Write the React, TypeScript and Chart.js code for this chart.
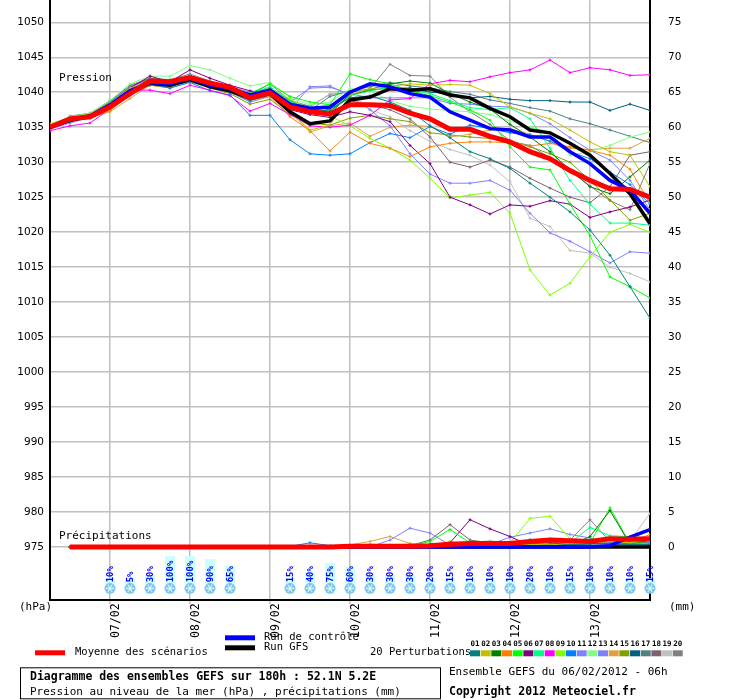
import React, { useEffect, useRef } from "react";
import { Chart, registerables } from "chart.js";
Chart.register(...registerables);

const dayLabels = ["07/02", "08/02", "09/02", "10/02", "11/02", "12/02", "13/02"];
const dayTickIdx = [3, 7, 11, 15, 19, 23, 27];
const pressureTicks = [975, 980, 985, 990, 995, 1000, 1005, 1010, 1015, 1020, 1025, 1030, 1035, 1040, 1045, 1050];

const meanP = [1035.0,1036.2,1036.5,1037.9,1039.8,1041.6,1041.5,1042.1,1041.3,1040.7,1039.2,1039.9,1037.9,1037.2,1036.9,1038.2,1038.2,1038.1,1037.0,1036.2,1034.7,1034.7,1033.7,1032.9,1031.5,1030.5,1028.8,1027.4,1026.2,1026.1,1025.0];
const controlP = [1035.0,1036.0,1036.6,1038.2,1040.2,1041.4,1041.2,1042.0,1041.0,1040.5,1039.6,1040.3,1038.3,1037.7,1037.9,1040.0,1041.2,1040.8,1039.8,1039.3,1037.2,1036.0,1034.8,1034.6,1033.6,1033.6,1031.5,1029.8,1027.4,1026.0,1022.7];
const gfsP = [1035.0,1036.0,1036.6,1038.0,1040.0,1041.3,1041.0,1041.8,1040.8,1040.2,1039.2,1039.8,1037.2,1035.5,1035.9,1038.9,1039.3,1040.5,1040.3,1040.5,1039.6,1039.2,1037.7,1036.5,1034.6,1034.2,1032.7,1031.0,1028.4,1025.5,1021.2];

const p01 = [1035,1036.1,1036.6,1038.1,1040.1,1041.3,1041.0,1041.6,1040.6,1040.0,1038.8,1039.6,1037.8,1037.0,1037.6,1039.2,1039.5,1038.6,1037.4,1035.2,1033.5,1031.5,1030.5,1029.1,1027,1025,1022.9,1020.3,1016.7,1012.2,1007.7];
const p02 = [1035.3,1036.4,1036.9,1038.5,1040.6,1041.6,1041.3,1042,1041.2,1040.4,1039.4,1039.6,1037.2,1034.6,1035.3,1039.6,1040.5,1040.8,1041.2,1041,1041.1,1041,1039.8,1037.9,1037,1036.2,1034.6,1032.9,1031.5,1031,1026.5];
const p03 = [1035,1036.3,1036.7,1038,1040.4,1041.2,1041.2,1041.8,1041,1040.5,1039.6,1040.5,1038.4,1037.6,1037.3,1039.6,1040.4,1041.2,1041.6,1041.3,1039.8,1038.6,1037.6,1035.4,1033.6,1031.5,1028.9,1026.5,1025.5,1027.9,1030.3];
const p04 = [1035.3,1036,1036.4,1037.4,1040.2,1041.2,1040.9,1041.6,1040.7,1040,1038.9,1039.4,1036.5,1034.5,1031.6,1034.3,1032.7,1032,1030.8,1032.2,1032.7,1032.9,1032.9,1032.8,1032.3,1032.7,1032.2,1031.7,1031,1029,1024.1];
const p05 = [1035,1035.8,1036.3,1037.6,1040,1041.5,1041.2,1041.8,1041,1040.5,1039.8,1041.2,1039.4,1038.6,1038.2,1042.6,1041.8,1041.2,1040.2,1039.5,1038.6,1037.5,1036.0,1032.2,1029.3,1028.9,1024,1019.5,1013.6,1012.2,1010.6];
const p06 = [1035,1036.3,1036.6,1038.3,1040.6,1042.3,1041.5,1043.2,1042,1041,1040.2,1039.8,1037.5,1036.8,1036.4,1037.2,1036.7,1035.8,1032.4,1029.8,1025,1023.9,1022.6,1023.9,1023.7,1024.5,1024,1022.1,1022.9,1023.6,1024.6];
const p07 = [1035,1036.2,1036.5,1037.8,1040,1041.4,1041.3,1042,1041.2,1040.6,1039.8,1040.8,1038.6,1037.8,1037.2,1039.5,1040.2,1040.7,1040.3,1039.8,1038.8,1037.8,1037.5,1037.8,1036.2,1032,1027.4,1024,1021.3,1021.3,1021];
const p08 = [1034.5,1035.2,1035.6,1037.6,1040.3,1040.3,1039.8,1041.0,1040.3,1039.5,1037.3,1038.4,1036.8,1035.2,1035.0,1035.3,1036.7,1038.9,1039.1,1041.2,1041.7,1041.5,1042.2,1042.8,1043.2,1044.6,1042.8,1043.5,1043.2,1042.4,1042.5];
const p09 = [1035,1036,1036.5,1038,1040,1041.4,1041.2,1042.2,1041.4,1040.8,1039.6,1040.6,1039.0,1037.6,1036.6,1035.2,1033.4,1032,1030.3,1027.7,1024.9,1025.3,1025.7,1022.7,1014.6,1011,1012.7,1016.5,1020,1021.1,1020];
const p10 = [1034.8,1035.8,1036.6,1038.6,1040.6,1041.2,1040.6,1041.4,1040.2,1039.6,1036.7,1036.7,1033.2,1031.2,1031,1031.2,1032.8,1034.1,1033.5,1035.1,1034,1035.3,1034.8,1034.2,1033.9,1033,1031.5,1030.5,1028.6,1026.8,1024];
const p11 = [1035,1036,1036.7,1038.4,1040.8,1041.7,1041.5,1042.4,1041.5,1040.8,1040,1040.5,1038.6,1040.6,1040.7,1039.8,1039.2,1039.2,1039.2,1039.2,1038.4,1038.3,1038.0,1037.9,1037,1035.5,1033.5,1031.7,1030.3,1027.4,1023.2];
const p12 = [1035.4,1036.5,1037,1038.8,1041.2,1042.3,1042.3,1043.8,1043.2,1042,1040.9,1041.4,1039.2,1038.2,1038.6,1040.5,1040.2,1038.8,1038,1037.6,1037.4,1037.2,1036.8,1035.9,1035,1034.3,1031,1031.5,1032.4,1033.6,1034.3];
const p13 = [1034.8,1035.6,1036.4,1038.3,1040.4,1041.2,1040.8,1041.8,1040.8,1040,1038.6,1039.4,1037.5,1040.8,1040.9,1039.5,1037.5,1035.2,1031.2,1028.3,1027,1027,1027.4,1026,1022.7,1019.9,1018.7,1017.2,1015.6,1017.2,1017];
const p14 = [1035.5,1036.2,1036.4,1037.2,1039.1,1041,1040.7,1042.1,1041.6,1040.6,1039,1039.7,1037.3,1034.3,1035.2,1035.6,1033.7,1035,1035.3,1035.1,1033.6,1034,1034.6,1034.8,1034,1033,1032,1031.8,1032,1032,1033.4];
const p15 = [1035.2,1036,1036.3,1037.4,1039.6,1041,1040.6,1041.5,1040.6,1039.8,1038.3,1039,1036.8,1035.6,1035.3,1036.3,1036.7,1036.2,1035.8,1034.2,1033.9,1033.6,1033.4,1033,1032.2,1031.2,1030,1027.4,1024.6,1021.7,1022.7];
const p16 = [1035.2,1036.0,1036.8,1038.0,1039.6,1041.0,1040.8,1041.6,1040.8,1040.2,1039.0,1039.8,1038.2,1037.5,1037.0,1039.6,1040.3,1040.6,1040.6,1040.0,1039.8,1039.2,1039.4,1039.0,1038.8,1038.8,1038.6,1038.6,1037.4,1038.3,1037.4];
const p17 = [1035,1036.4,1036.9,1038.6,1040.8,1041.9,1041.6,1042.3,1041.4,1040.8,1039.8,1040.6,1038.8,1037.4,1039.4,1040.2,1040.8,1041.4,1040.9,1040.6,1040.1,1039.7,1038.9,1038.4,1037.8,1037.3,1036.2,1035.5,1034.6,1033.7,1032.8];
const p18 = [1035,1036.4,1036.9,1038.6,1040.8,1042,1041.6,1042,1041,1040.3,1039.2,1039.8,1037.8,1037.2,1036.9,1038.8,1038.2,1037.5,1036.2,1033.6,1030,1029.3,1030.3,1029.3,1027.7,1026.3,1025,1024.2,1026.5,1031,1031.5];
const p19 = [1035,1036.2,1036.8,1038.2,1040.2,1041.5,1041.2,1042.3,1041.3,1040.6,1039.5,1040.3,1038.5,1037.8,1039.8,1040.1,1037.5,1036.5,1034.5,1033,1031.8,1031,1029.6,1027.2,1022,1020.8,1017.4,1017,1015,1014.1,1012.9];
const p20 = [1034.6,1036.6,1037,1038.8,1041,1042,1041.8,1042.6,1041.6,1040.8,1039.7,1041.2,1038.8,1038,1039.7,1040,1040.5,1044,1042.4,1042.3,1039.3,1037.2,1035.4,1033,1032.4,1030.6,1028.8,1026.6,1024.5,1023.2,1029.8];
const pertP = [p01,p02,p03,p04,p05,p06,p07,p08,p09,p10,p11,p12,p13,p14,p15,p16,p17,p18,p19,p20];
const pertColors = ["#008080","#c0c000","#008000","#ff8000","#00ff00","#800080","#00ff80","#ff00ff","#80ff00","#0080ff","#8080ff","#80ff80","#8080ff","#e0a040","#80a000","#006080","#508080","#806070","#c0c0c0","#808080"];

const meanR = [null,0,0,0,0,0,0,0,0,0,0,0,0,0,0,0.1,0.1,0.1,0.1,0.2,0.4,0.5,0.5,0.5,0.8,1.0,0.9,0.8,1.2,1.1,1.2];
const controlR = [null,0,0,0,0,0,0,0,0,0,0,0,0,0,0,0,0,0,0,0,0,0,0,0,0,0,0,0,0.2,1.4,2.5];
const gfsR = [null,0,0,0,0,0,0,0,0,0,0,0,0,0,0,0,0,0,0,0,0,0,0,0,0,0,0,0,0,0,0];
const r01 = [null,0,0,0,0,0,0,0,0,0,0,0,0,0,0,0,0,0,0,0,0,0,0,0.5,1.0,0.6,0.3,0.4,0.5,0.3,0.4];
const r02 = [null,0,0,0,0,0,0,0,0,0,0,0,0,0,0,0,0,0,0.2,0.3,0.2,0.1,0.2,0.3,0.4,0.3,0.5,0.6,0.8,0.6,0.5];
const r03 = [null,0,0,0,0,0,0,0,0,0,0,0,0,0,0,0,0,0,0,0.1,0.3,0.2,0.1,0.2,0.5,0.3,0.2,1.5,5.2,0.4,1.0];
const r04 = [null,0,0,0,0,0,0,0,0,0,0,0,0,0,0,0.2,0.4,0.3,0.4,0.3,0.2,0.2,0.2,0.4,0.6,0.4,0.3,0.8,0.9,0.7,1.8];
const r05 = [null,0,0,0,0,0,0,0,0.1,0,0,0,0,0,0,0,0,0,0.1,0.8,2.5,0.6,0.3,0.2,0.3,0.2,0.5,0.6,5.6,0.5,0.9];
const r06 = [null,0,0,0,0,0,0,0,0,0,0,0,0,0,0,0,0,0,0.1,0.4,0.6,3.9,2.6,1.5,0.2,0.1,0.3,0.5,0.4,0.3,0.3];
const r07 = [null,0,0,0,0,0,0,0,0,0,0,0,0,0,0,0,0,0,0,0.1,0.2,0.3,0.4,0.5,0.8,1.2,0.6,2.8,1.6,1.5,1.3];
const r08 = [null,0,0,0,0,0,0,0,0,0,0,0,0,0,0,0,0,0,0,0,0,0,0,0,0.1,0.1,0,0.1,0.2,0.1,0.2];
const r09 = [null,0,0,0,0,0,0,0,0,0,0,0,0,0,0,0,0,0,0,0,0.8,0.4,0.3,0.6,4.1,4.4,1.2,0.6,0.9,1.0,0.8];
const r10 = [null,0,0,0,0,0,0,0,0,0,0,0,0.1,0.6,0.2,0.2,0.1,0.1,0.3,0.2,0.3,0.2,0.3,0.4,0.5,0.4,0.6,0.8,0.9,0.4,0.6];
const r11 = [null,0,0,0,0,0,0,0,0,0,0,0,0,0,0,0,0,1.0,2.7,2.0,0.3,0.2,0.2,0.3,0.4,0.6,0.5,0.5,0.6,0.4,0.5];
const r12 = [null,0,0,0,0,0,0,0,0,0,0,0,0,0,0,0,0,0,0.1,0.2,0.1,0.2,0.3,0.4,0.6,0.5,0.4,0.7,1.6,1.4,0.9];
const r13 = [null,0,0,0,0,0,0,0,0,0,0,0,0,0,0,0,0,0,0.1,0.2,0.2,0.3,0.4,1.4,2.0,2.6,1.8,1.3,0.7,0.6,1.0];
const r14 = [null,0,0,0,0,0,0,0,0,0,0,0,0,0,0,0.3,0.8,1.5,0.5,0.2,0.3,0.2,0.3,0.4,0.5,0.6,0.9,1.1,0.8,0.9,0.7];
const r15 = [null,0,0,0,0,0,0,0,0,0,0,0,0,0,0,0,0,0,0.1,0.1,0.2,0.3,0.2,0.3,0.4,0.5,0.5,0.6,0.7,0.5,0.4];
const r16 = [null,0,0,0,0,0,0,0,0,0,0,0,0,0,0,0,0,0,0,0.1,0.1,0.2,0.2,0.3,1.0,0.6,0.4,0.9,0.5,0.4,0.6];
const r17 = [null,0,0,0,0,0,0,0,0,0,0,0,0,0,0,0,0,0,0,0.1,0.2,0.2,0.3,0.4,0.5,0.4,0.6,0.7,0.5,0.6,0.7];
const r18 = [null,0,0,0,0,0,0,0,0,0,0,0,0,0,0,0,0,0,0.2,1.0,3.2,1.0,0.6,0.4,0.7,0.5,0.4,0.6,0.8,0.3,0.5];
const r19 = [null,0,0,0,0,0,0,0,0,0,0,0,0,0,0,0,0,0,0,0.1,0.3,0.6,0.9,0.6,0.5,0.7,0.4,0.6,0.8,0.9,4.8];
const r20 = [null,0,0,0,0,0,0,0,0,0,0,0,0,0,0,0,0,0,0,0.2,0.5,0.4,0.3,0.5,0.7,0.6,1.0,3.9,0.8,0.5,0.8];
const pertR = [r01,r02,r03,r04,r05,r06,r07,r08,r09,r10,r11,r12,r13,r14,r15,r16,r17,r18,r19,r20];

const snowIdx = [3,4,5,6,7,8,9,12,13,14,15,16,17,18,19,20,21,22,23,24,25,26,27,28,29,30];
const snowPct = [10,5,30,100,100,90,65,15,40,75,60,30,30,30,20,15,10,10,10,20,10,15,10,10,10,15];

const BASE = 975;
const MONO = '"DejaVu Sans Mono", monospace';

const pts = (arr: number[]) => arr.map((y, i) => ({ x: i, y }));
const rpts = (arr: (number | null)[]) =>
  arr.map((v, i) => (v === null ? null : { x: i, y: BASE + v })).filter((p) => p !== null);

// The overlay works in page coordinates; dy maps page y to canvas y (chart top offset).
const overlay = {
  id: "overlay",
  afterDatasetsDraw(chart: any) {
    const ctx = chart.ctx;
    const xs = chart.scales.x;
    const dy = chart.chartArea.top;
    ctx.save();
    ctx.translate(0, dy);
    ctx.fillStyle = "#000";
    ctx.font = `11px ${MONO}`;
    ctx.textBaseline = "middle";
    ctx.textAlign = "left";
    ctx.fillText("Pression", 59, 78);
    ctx.fillText("Précipitations", 59, 536);
    snowIdx.forEach((idx, k) => {
      const x = Math.round(xs.getPixelForValue(idx));
      const pct = snowPct[k];
      const h = Math.max(5, pct * 0.27);
      ctx.fillStyle = "#c8ffff";
      ctx.fillRect(x - 5, 583 - h, 10, h);
      ctx.fillStyle = "#7ec8f0";
      ctx.beginPath();
      ctx.arc(x, 588, 5.5, 0, Math.PI * 2);
      ctx.fill();
      ctx.strokeStyle = "#e8ffff";
      ctx.lineWidth = 1;
      for (let a = 0; a < 3; a++) {
        const an = (a * Math.PI) / 3;
        ctx.beginPath();
        ctx.moveTo(x - 4 * Math.cos(an), 588 - 4 * Math.sin(an));
        ctx.lineTo(x + 4 * Math.cos(an), 588 + 4 * Math.sin(an));
        ctx.stroke();
      }
      ctx.save();
      ctx.translate(x + 0.5, 582);
      ctx.rotate(-Math.PI / 2);
      ctx.fillStyle = "#0000ff";
      ctx.font = `bold 9px ${MONO}`;
      ctx.textAlign = "left";
      ctx.textBaseline = "middle";
      ctx.fillText(pct + "%", 0, 0);
      ctx.restore();
    });
    ctx.restore();
  },
  afterDraw(chart: any) {
    const ctx = chart.ctx;
    const xs = chart.scales.x;
    const dy = chart.chartArea.top;
    ctx.save();
    ctx.translate(0, dy);
    ctx.fillStyle = "#000";
    ctx.textBaseline = "middle";
    ctx.textAlign = "left";
    ctx.font = `11px ${MONO}`;
    ctx.fillText("(hPa)", 19, 607);
    ctx.fillText("(mm)", 669, 607);
    dayTickIdx.forEach((v, i) => {
      const x = Math.round(xs.getPixelForValue(v));
      ctx.strokeStyle = "#c0c0c0";
      ctx.lineWidth = 1.5;
      ctx.beginPath();
      ctx.moveTo(x, 601);
      ctx.lineTo(x, 604);
      ctx.stroke();
      ctx.save();
      ctx.translate(x + 6, 603);
      ctx.rotate(-Math.PI / 2);
      ctx.fillStyle = "#000";
      ctx.font = `11.5px ${MONO}`;
      ctx.textAlign = "right";
      ctx.textBaseline = "middle";
      ctx.fillText(dayLabels[i], 0, 0);
      ctx.restore();
    });
    ctx.fillStyle = "#ff0000";
    ctx.fillRect(35, 650, 30, 5);
    ctx.fillStyle = "#0000ff";
    ctx.fillRect(225, 635, 30, 5);
    ctx.fillStyle = "#000";
    ctx.fillRect(225, 645, 30, 5);
    ctx.font = `10.5px ${MONO}`;
    ctx.fillText("Moyenne des scénarios", 75, 652);
    ctx.fillText("Run de contrôle", 264, 637);
    ctx.fillText("Run GFS", 264, 647);
    ctx.fillText("20 Perturbations", 370, 652);
    pertColors.forEach((c, i) => {
      const x = 470 + i * 10.67;
      ctx.fillStyle = c;
      ctx.fillRect(x, 650, 10, 6);
      ctx.fillStyle = "#000";
      ctx.font = `bold 7.5px ${MONO}`;
      ctx.textAlign = "left";
      ctx.fillText(String(i + 1).padStart(2, "0"), x + 0.5, 644);
    });
    ctx.strokeStyle = "#000";
    ctx.lineWidth = 1;
    ctx.strokeRect(20.5, 667.5, 420, 31);
    ctx.font = `bold 11.5px ${MONO}`;
    ctx.fillText("Diagramme des ensembles GEFS sur 180h : 52.1N 5.2E", 30, 677);
    ctx.font = `11px ${MONO}`;
    ctx.fillText("Pression au niveau de la mer (hPa) , précipitations (mm)", 30, 692);
    ctx.fillText("Ensemble GEFS du 06/02/2012 - 06h", 449, 672);
    ctx.font = `bold 11.5px ${MONO}`;
    ctx.fillText("Copyright 2012 Meteociel.fr", 449, 692);
    ctx.restore();
  },
};

export default function App() {
  const ref = useRef<HTMLCanvasElement>(null);
  useEffect(() => {
    document.body.style.margin = "0";
    const datasets: any[] = [];
    pertP.forEach((arr, i) => {
      datasets.push({
        data: pts(arr), borderColor: pertColors[i], backgroundColor: pertColors[i], borderWidth: 1,
        pointRadius: 1.5, pointStyle: "cross", order: 5,
      });
      datasets.push({
        data: rpts(pertR[i]), borderColor: pertColors[i], backgroundColor: pertColors[i], borderWidth: 1,
        pointRadius: 1.5, pointStyle: "cross", order: 5,
      });
    });
    const main = [
      { p: gfsP, r: gfsR, c: "#000000", w: 3.5, o: 3 },
      { p: controlP, r: controlR, c: "#0000ff", w: 3.5, o: 2 },
      { p: meanP, r: meanR, c: "#ff0000", w: 5, o: 1 },
    ];
    main.forEach((m) => {
      datasets.push({ data: pts(m.p), borderColor: m.c, backgroundColor: m.c, borderWidth: m.w, pointRadius: 0, order: m.o });
      datasets.push({ data: rpts(m.r), borderColor: m.c, backgroundColor: m.c, borderWidth: m.w, pointRadius: 0, order: m.o });
    });
    const tickFont = { family: '"DejaVu Sans", sans-serif', size: 10.5 };
    const canvas = ref.current!;
    const chart = new Chart(canvas, {
      type: "line",
      data: { datasets },
      options: {
        animation: false,
        responsive: false,
        layout: { padding: 0 },
        plugins: { legend: { display: false }, tooltip: { enabled: false } },
        elements: { line: { tension: 0 } },
        scales: {
          x: {
            type: "linear", min: 0, max: 30,
            afterBuildTicks: (s: any) => { s.ticks = dayTickIdx.map((v) => ({ value: v })); },
            afterFit: (s: any) => { s.height = 100; },
            ticks: { display: false },
            grid: { color: "#c0c0c0", drawTicks: false, lineWidth: 1.5 },
            border: { color: "#000", width: 2 },
          },
          y: {
            position: "left", min: 967.43, max: 1053.14,
            afterBuildTicks: (s: any) => { s.ticks = pressureTicks.map((v) => ({ value: v })); },
            afterFit: (s: any) => { s.width = 50; },
            ticks: { color: "#000", padding: 6, font: tickFont, callback: (v: any) => String(v) },
            grid: { color: "#c0c0c0", drawTicks: false, lineWidth: 1.5 },
            border: { color: "#000", width: 2 },
          },
          y2: {
            position: "right", min: 967.43, max: 1053.14,
            afterBuildTicks: (s: any) => { s.ticks = pressureTicks.map((v) => ({ value: v })); },
            afterFit: (s: any) => { s.width = 90; },
            ticks: { color: "#000", padding: 18, font: tickFont, callback: (v: any) => String(v - BASE) },
            grid: { display: false, drawTicks: false },
            border: { color: "#000", width: 2 },
          },
        },
      },
      plugins: [overlay],
    });
    // shift the canvas so the plot area top sits at the page top
    const top = chart.chartArea.top;
    canvas.style.marginTop = `-${top}px`;
    return () => chart.destroy();
  }, []);
  return (
    <div style={{ overflow: "hidden", width: 740, height: 700 }}>
      <canvas ref={ref} width={740} height={724} style={{ display: "block", width: 740, height: 724 }} />
    </div>
  );
}
